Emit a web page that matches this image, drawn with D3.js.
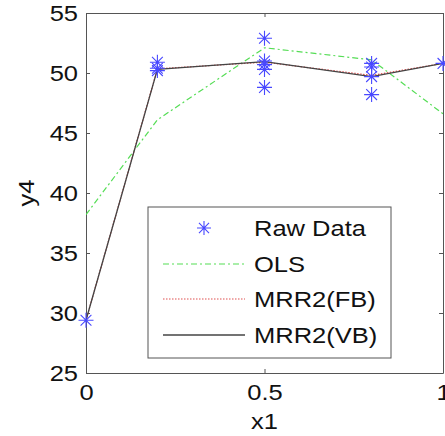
<!DOCTYPE html>
<html lang="en">
<head>
<meta charset="utf-8">
<title>y4 vs x1</title>
<script src="https://d3js.org/d3.v7.min.js"></script>
<style>
  body { margin: 0; background: #fff; }
  text { font-family: "Liberation Sans", Arial, sans-serif; fill: #111; }
</style>
</head>
<body>
<div id="chart"></div>
<script>
// ---- data ----
var rawX = [0, 0.2, 0.2, 0.2, 0.5, 0.5, 0.5, 0.5, 0.5, 0.8, 0.8, 0.8, 0.8, 1];
var rawY = [29.4, 50.9, 50.4, 50.2, 52.9, 51.0, 50.7, 50.3, 48.8, 50.8, 50.5, 49.7, 48.2, 50.8];
var fitX = [0, 0.2, 0.5, 0.8, 1];
var olsY = [38.2, 46.1, 52.1, 51.1, 46.6];
var fbY  = [29.4, 50.35, 50.9, 49.8, 50.8];
var vbY  = [29.4, 50.3, 50.95, 49.7, 50.8];
var xTicks = [0, 0.5, 1];
var yTicks = [25, 30, 35, 40, 45, 50, 55];
var legendNames = ["Raw Data", "OLS", "MRR2(FB)", "MRR2(VB)"];

var width = 445, height = 436;
var m = {top: 13, right: 2, bottom: 63, left: 86};
var stretch = 1.16; // glyphs in the picture are a little wide
var fs = 22;

var svg = d3.select("#chart").append("svg")
    .attr("width", width)
    .attr("height", height);

var x = d3.scaleLinear().domain([0, 1]).range([m.left, width - m.right]);
var y = d3.scaleLinear().domain([25, 55]).range([height - m.bottom, m.top]);

var axisColor = "#555";

// ---- axes (box with inward ticks) ----
function styleAxis(g) {
  g.select(".domain").attr("stroke", axisColor);
  g.selectAll(".tick line").attr("stroke", axisColor);
}

svg.append("g")
    .attr("transform", "translate(0," + y(25) + ")")
    .call(d3.axisBottom(x).tickValues(xTicks).tickSizeInner(-4).tickSizeOuter(0).tickPadding(11)
      .tickFormat(function(d) { return d; }))
    .call(styleAxis)
    .selectAll("text")
      .attr("font-size", fs)
      .attr("fill", "#111")
      .attr("transform", "scale(" + stretch + ",1)");

svg.append("g")
    .attr("transform", "translate(0," + y(55) + ")")
    .call(d3.axisTop(x).tickValues(xTicks).tickSizeInner(-4).tickSizeOuter(0).tickFormat(""))
    .call(styleAxis);

svg.append("g")
    .attr("transform", "translate(" + x(0) + ",0)")
    .call(d3.axisLeft(y).tickValues(yTicks).tickSizeInner(-4).tickSizeOuter(0))
    .call(styleAxis)
    .selectAll("text")
      .attr("font-size", fs)
      .attr("fill", "#111")
      .attr("transform", "scale(" + stretch + ",1)")
      .attr("x", -8 / stretch);

svg.append("g")
    .attr("transform", "translate(" + x(1) + ",0)")
    .call(d3.axisRight(y).tickValues(yTicks).tickSizeInner(-4).tickSizeOuter(0).tickFormat(""))
    .call(styleAxis);

// axis labels
svg.append("text")
    .attr("transform", "translate(" + x(0.5) + ",429) scale(" + stretch + ",1)")
    .attr("text-anchor", "middle")
    .attr("font-size", fs)
    .text("x1");

svg.append("text")
    .attr("transform", "translate(34," + y(40) + ") rotate(-90) scale(" + stretch + ",1)")
    .attr("text-anchor", "middle")
    .attr("font-size", fs)
    .text("y4");

// ---- lines ----
svg.append("clipPath").attr("id", "plotclip")
  .append("rect")
    .attr("x", x(0)).attr("y", y(55))
    .attr("width", x(1) - x(0)).attr("height", y(25) - y(55));

var line = d3.line()
    .x(function(d) { return x(d[0]); })
    .y(function(d) { return y(d[1]); });

var series = [
  {vals: olsY, color: "#55dd55", dash: "6,3,2,3", w: 1.2},
  {vals: fbY,  color: "#e05050", dash: "1.5,1.5", w: 1.2},
  {vals: vbY,  color: "#444444", dash: null, w: 1.3}
];

var plot = svg.append("g").attr("clip-path", "url(#plotclip)");

series.forEach(function(s) {
  plot.append("path")
      .datum(d3.zip(fitX, s.vals))
      .attr("d", line)
      .attr("fill", "none")
      .attr("stroke", s.color)
      .attr("stroke-width", s.w)
      .attr("stroke-dasharray", s.dash);
});

// ---- raw data stars ----
function star(g, r) {
  var k = r * 0.72;
  g.append("path")
    .attr("d", "M" + (-r) + ",0H" + r + "M0," + (-r) + "V" + r +
               "M" + (-k) + "," + (-k) + "L" + k + "," + k +
               "M" + (-k) + "," + k + "L" + k + "," + (-k))
    .attr("stroke", "#4848ff")
    .attr("stroke-width", 1.1)
    .attr("fill", "none");
}

svg.append("g").selectAll("g")
    .data(d3.zip(rawX, rawY))
    .enter().append("g")
      .attr("transform", function(d) { return "translate(" + x(d[0]) + "," + y(d[1]) + ")"; })
      .each(function() { star(d3.select(this), 7.5); });

// ---- legend ----
var lg = svg.append("g");
lg.append("rect")
    .attr("x", 148).attr("y", 207)
    .attr("width", 243).attr("height", 151)
    .attr("fill", "#fff")
    .attr("stroke", axisColor);

var rowY = [228, 264, 299, 335];
legendNames.forEach(function(name, i) {
  if (i === 0) {
    star(lg.append("g").attr("transform", "translate(204," + rowY[i] + ")"), 7);
  } else {
    var s = series[i - 1];
    lg.append("line")
        .attr("x1", 163).attr("x2", 245)
        .attr("y1", rowY[i]).attr("y2", rowY[i])
        .attr("stroke", s.color)
        .attr("stroke-width", s.w)
        .attr("stroke-dasharray", s.dash);
  }
  lg.append("text")
      .attr("transform", "translate(254," + rowY[i] + ") scale(" + stretch + ",1)")
      .attr("dy", "0.36em")
      .attr("font-size", fs)
      .text(name);
});
</script>
</body>
</html>
